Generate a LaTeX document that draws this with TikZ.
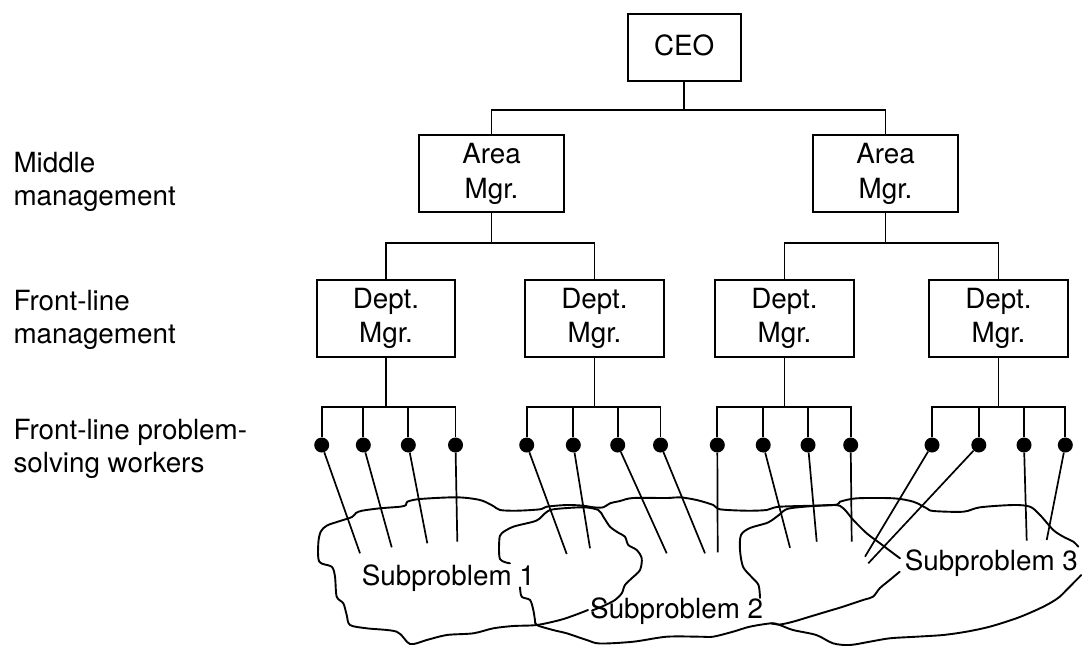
\documentclass[tikz,border=0pt]{standalone}
\usepackage{fontspec}
\setmainfont{TeX Gyre Heros}
\begin{document}
\begin{tikzpicture}[x=1pt,y=-1pt,
  every node/.style={font=\fontsize{27.8}{34.5}\selectfont},
  box/.style={draw,line width=2.1pt,inner sep=0pt,align=center},
  deptbox/.style={box,minimum width=138.5pt,minimum height=76.7pt},
  areabox/.style={box,minimum width=144.4pt,minimum height=76.7pt},
  tree/.style={line width=1.9pt},
  worker/.style={circle,fill=black,inner sep=0pt,minimum size=15pt},
  cloudline/.style={line width=1.9pt,line join=round,line cap=round},
  lbl/.style={inner sep=0pt,anchor=base west,align=left,font=\fontsize{27.8}{33}\selectfont},
  sub/.style={inner sep=0pt,anchor=base west}]
\useasboundingbox (0,0) rectangle (1083,646);

% level labels (anchored at the baseline of their last line)
\node[lbl] (lmid) at (13.3,205) {Middle\\management};
\node[lbl] (lfront) at (13.3,343.3) {Front-line\\management};
\node[lbl] (lwork) at (13.3,472) {Front-line problem-\\solving workers};

% management boxes
\node[box,minimum width=113pt,minimum height=66.7pt,text depth=5pt] (ceo) at (684.2,47.7) {CEO};
\node[areabox] (a1) at (491.5,173.7) {Area\\Mgr.};
\node[areabox] (a2) at (885.5,173.7) {Area\\Mgr.};
\node[deptbox] (d1) at (386,318.3) {Dept.\\Mgr.};
\node[deptbox] (d2) at (594.5,318.3) {Dept.\\Mgr.};
\node[deptbox] (d3) at (784.5,318.3) {Dept.\\Mgr.};
\node[deptbox] (d4) at (998.5,318.3) {Dept.\\Mgr.};

% tree branches
\coordinate (t0) at (684.2,110);
\draw[tree] (ceo) -- (t0);
\draw[tree] (a1) |- (t0) -| (a2);
\coordinate (t1) at (491.5,243.3);
\coordinate (t2) at (885.5,243.3);
\draw[tree] (a1) -- (t1);
\draw[tree] (d1) |- (t1) -| (d2);
\draw[tree] (a2) -- (t2);
\draw[tree] (d3) |- (t2) -| (d4);

% workers
\foreach \n/\x in {1/321.7,2/363.3,3/408.3,4/455.5,
                   5/526.7,6/573.3,7/617.7,8/660.5,
                   9/717.3,10/763.2,11/808,12/850.7,
                   13/932,14/978.8,15/1024,16/1065.3}
  \node[worker] (w\n) at (\x,445) {};

\coordinate (j1) at (386,407.3);
\coordinate (j2) at (594.5,407.3);
\coordinate (j3) at (784.5,407.3);
\coordinate (j4) at (998.5,407.3);
\foreach \d/\a/\b/\c/\e in {1/1/2/3/4,2/5/6/7/8,3/9/10/11/12,4/13/14/15/16}{
  \draw[tree] (d\d) -- (j\d);
  \draw[tree] (w\a) |- (j\d) -| (w\e);
  \draw[tree] (w\b) -- (w\b |- j\d);
  \draw[tree] (w\c) -- (w\c |- j\d);
}

% lines from workers into the problem clouds
\foreach \n/\x/\y in {1/360/553.3,2/391.7/547.3,3/427.3/543.3,4/457.3/541.7,
                      5/566.7/554,6/590/548.3,7/666.7/553.3,8/705/553.3,
                      9/717.7/552.3,10/790/547.7,11/816.7/541.7,12/851.7/541.7,
                      13/865/556.7,14/868.3/563.3,15/1026.7/540.7,16/1046.7/540}{
  \coordinate (e\n) at (\x,\y);
  \draw[line width=1.7pt] (w\n) -- (e\n);
}

% problem clouds
\draw[cloudline] plot[smooth,tension=0.5] coordinates {
 (1078.3,546.7) (1073.3,541.7) (1063.3,536.7) (1053.3,530) (1040,515) (1030,506.7)
 (1013.3,505) (980,507.3) (963.3,511.7) (933.3,511) (926.7,508.3) (913.3,501.7)
 (893.3,498.3) (856.7,498.3) (840,501.7) (833.3,505) (780,506.7) (766.7,510)
 (746.7,510.7) (720,509.3) (713.3,505) (696.7,500) (680,497.3) (667,498) (633,498)
 (620,501) (610,503.3) (603.3,507.3) (593.3,507.3) (583.3,505.7) (566.7,505)
 (546.7,506.7) (540,509.3) (516.7,510.7) (500,510) (493.3,506) (480,500)
 (456.7,497.3) (420,499) (407.3,501.7) (406,505) (400,506.7) (380,508.3)
 (362,510.7) (356,513) (352,517) (340,521) (327,525.5) (320.7,531.7) (318.3,543.3)
 (319.3,561.7) (331.7,566.7) (335,576.7) (336.7,596.7) (343.3,603.3) (346.7,615)
 (350,625) (366.7,628.3) (396.7,631.7) (410,644) (426.7,640) (446.7,635)
 (473.3,633.3) (493.3,628.3) (513.3,626) (536.7,625) (560,620) (575,615) (588,610)};
\draw[cloudline] plot[smooth,tension=0.5] coordinates {
 (510,563.3) (500,559) (499.3,540) (501.7,533.3) (513.3,526.7) (533.3,521.7)
 (540,518.3) (545,513.3) (553.3,509.3) (583.3,507.3) (598.3,510) (603.3,516.7)
 (610,526.7) (618.3,532.7) (625,536.7) (628.3,545) (636.7,550) (641.7,558.3)
 (640,570) (631.7,578.3) (625,585) (621.7,593.3) (615,600) (603.3,606) (592,610.5)};
\draw[cloudline] plot[smooth,tension=0.5] coordinates {
 (520,587.3) (521.7,596.7) (530,600) (533.3,610) (535,620) (536.7,625) (553,630)
 (566.7,633.3) (586.7,640) (600,643.5) (633.3,641.7) (666.7,636.7) (700,636.7)
 (713,636.7) (733,631.7) (749.7,626.7) (771.3,623.3) (779.7,625) (793,630)
 (816.3,635) (833,643.3) (849.7,645) (869.7,641.7) (889.7,638.3) (916.3,636.7)
 (943,635) (966.3,631.7) (989.7,626.7) (1016.3,618.3) (1036.3,610) (1049.7,603.3)
 (1059.7,596.7) (1069.7,586.7) (1081.3,575)};
\draw[cloudline] plot[smooth,tension=0.5] coordinates {
 (899.7,571.7) (889.7,580) (879.7,588.3) (873,596.7) (863,600) (843,606.7)
 (826.3,611.7) (809.7,616.7) (793,621.7) (779.7,624.5) (771.3,623.3)};
\draw[cloudline] plot[smooth,tension=0.5] coordinates {
 (760,598) (758.5,585) (751.3,576.7) (743,566.7) (740,550) (741,535)
 (750,528) (768,522.5) (779,515) (790,508.3) (833.3,505) (843.3,508.3)
 (853.3,520) (866.7,533.3) (880,543.3) (893.3,553.3) (900,558.3)};

% subproblem labels
\node[sub] (s1) at (361.7,585) {Subproblem 1};
\node[sub] (s2) at (590,618.3) {Subproblem 2};
\node[sub] (s3) at (904.7,570) {Subproblem 3};
\end{tikzpicture}
\end{document}
